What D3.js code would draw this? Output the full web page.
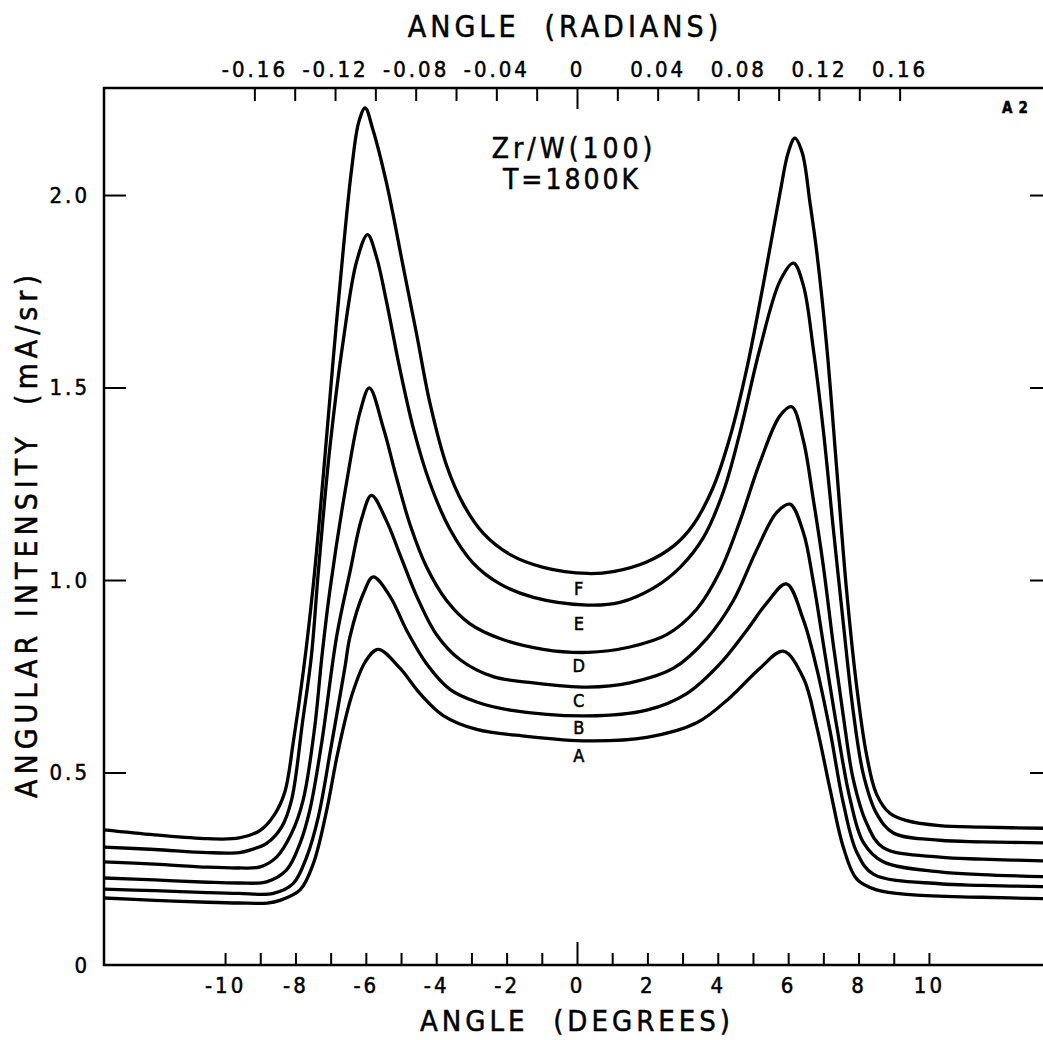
<!DOCTYPE html>
<html>
<head>
<meta charset="utf-8">
<script src="https://cdn.jsdelivr.net/npm/d3@7"></script>
<style>
  html, body { margin: 0; padding: 0; background: #fff; }
  svg { display: block; }
  text { font-family: "DejaVu Sans Condensed", "DejaVu Sans", sans-serif; fill: #000; stroke: #000; stroke-width: 0.5px; }
  .tick text { font-size: 22px; letter-spacing: 3px; }
  .tick line { stroke: #000; stroke-width: 2; }
  .curve { fill: none; stroke: #000; stroke-width: 3.3; stroke-linejoin: round; }
</style>
</head>
<body>
<svg id="chart" width="1043" height="1040"></svg>
<script>
// Zr/W(100) angular intensity at T = 1800 K, curves A..F (angle in degrees, intensity in mA/sr)

const curveA = [[-13.44,0.174],[-12,0.168],[-10.5,0.163],[-9.6,0.161],[-8.8,0.161],[-8.44,0.168],[-7.87,0.195],
  [-7.49,0.264],[-7.11,0.403],[-6.8,0.55],[-6.4,0.70],[-6.0,0.79],[-5.65,0.82],[-5.03,0.771],[-4.46,0.705],
  [-3.8,0.648],[-2.85,0.612],[-1.43,0.594],[0.3,0.582],[1.98,0.591],[3.4,0.629],[4.35,0.695],[5.2,0.771],
  [5.86,0.815],[6.43,0.746],[6.81,0.62],[7.19,0.457],[7.57,0.305],[7.95,0.223],[8.51,0.195],[9.55,0.182],
  [11.5,0.176],[13.44,0.172]];
const curveB = [[-13.44,0.197],[-12,0.193],[-10.5,0.188],[-9.6,0.186],[-8.63,0.186],[-8.06,0.212],[-7.68,0.281],
  [-7.35,0.385],[-7.0,0.56],[-6.6,0.77],[-6.45,0.853],[-6.07,0.965],[-5.79,1.008],[-5.31,0.957],[-4.84,0.869],
  [-4.27,0.782],[-3.61,0.716],[-2.85,0.683],[-1.9,0.662],[0.3,0.647],[1.98,0.662],[3.12,0.705],[4.06,0.782],
  [4.82,0.869],[5.39,0.94],[5.95,0.99],[6.43,0.897],[6.81,0.771],[7.19,0.608],[7.57,0.419],[7.95,0.293],
  [8.42,0.236],[10.31,0.211],[11.5,0.207],[13.44,0.203]];
const curveC = [[-13.44,0.226],[-12,0.221],[-10.5,0.215],[-9.6,0.213],[-8.82,0.216],[-8.25,0.247],[-7.87,0.316],
  [-7.59,0.403],[-7.25,0.58],[-6.83,0.853],[-6.45,1.021],[-6.12,1.159],[-5.84,1.22],[-5.41,1.153],[-5.03,1.066],
  [-4.55,0.957],[-3.99,0.858],[-3.32,0.793],[-2.38,0.749],[-1.24,0.733],[0.3,0.722],[1.5,0.733],[2.74,0.771],
  [3.69,0.848],[4.44,0.946],[5.1,1.077],[5.67,1.175],[6.05,1.197],[6.43,1.124],[6.71,0.998],[7.0,0.834],
  [7.38,0.62],[7.76,0.431],[8.14,0.318],[8.7,0.268],[10.31,0.242],[11.5,0.235],[13.44,0.229]];
const curveD = [[-13.44,0.268],[-12,0.262],[-10.5,0.254],[-9.6,0.252],[-9.0,0.255],[-8.53,0.281],[-8.11,0.342],
  [-7.78,0.429],[-7.45,0.62],[-7.25,0.80],[-7.02,0.974],[-6.55,1.252],[-6.16,1.438],[-5.9,1.499],[-5.5,1.394],
  [-5.12,1.263],[-4.74,1.143],[-4.27,1.033],[-3.7,0.946],[-3.04,0.886],[-2.19,0.848],[-0.96,0.82],[0.3,0.812],
  [1.5,0.826],[2.55,0.858],[3.4,0.924],[4.06,1.022],[4.63,1.153],[5.2,1.306],[5.77,1.427],[6.1,1.45],
  [6.43,1.363],[6.71,1.212],[7.0,1.036],[7.28,0.834],[7.57,0.645],[7.85,0.482],[8.23,0.368],[8.7,0.305],
  [10.31,0.28],[11.5,0.275],[13.44,0.27]];
const curveE = [[-13.44,0.306],[-12,0.3],[-10.5,0.292],[-9.6,0.292],[-9.28,0.299],[-8.82,0.316],[-8.39,0.359],
  [-8.11,0.429],[-7.8,0.63],[-7.55,0.80],[-7.35,1.021],[-7.02,1.345],[-6.64,1.623],[-6.26,1.828],[-5.95,1.897],
  [-5.7,1.84],[-5.41,1.722],[-5.03,1.547],[-4.65,1.394],[-4.18,1.252],[-3.61,1.132],[-2.95,1.044],[-2.19,0.99],
  [-1.24,0.955],[0.3,0.935],[1.22,0.942],[2.17,0.979],[2.93,1.033],[3.59,1.11],[4.16,1.23],[4.63,1.383],
  [5.2,1.602],[5.77,1.777],[6.15,1.823],[6.43,1.766],[6.71,1.603],[7.0,1.388],[7.28,1.136],[7.57,0.885],
  [7.85,0.658],[8.14,0.494],[8.51,0.394],[8.99,0.343],[10.31,0.324],[11.5,0.32],[13.44,0.317]];
const curveF = [[-13.44,0.351],[-12,0.338],[-10.5,0.328],[-9.6,0.33],[-9.0,0.35],[-8.6,0.39],[-8.3,0.45],
  [-8.06,0.58],[-7.78,0.76],[-7.49,0.99],[-7.21,1.27],[-6.93,1.57],[-6.64,1.86],[-6.4,2.07],[-6.2,2.19],
  [-6.02,2.226],[-5.8,2.17],[-5.41,2.03],[-4.93,1.81],[-4.55,1.635],[-4.18,1.46],[-3.7,1.296],[-3.23,1.197],
  [-2.66,1.121],[-1.9,1.066],[-0.96,1.033],[0.3,1.017],[1.03,1.022],[1.98,1.047],[2.74,1.088],[3.3,1.143],
  [3.87,1.241],[4.35,1.372],[4.82,1.547],[5.29,1.766],[5.77,2.006],[6.0,2.11],[6.19,2.148],[6.4,2.11],
  [6.62,1.98],[6.81,1.854],[7.1,1.603],[7.38,1.288],[7.66,0.973],[7.95,0.721],[8.23,0.545],[8.51,0.444],
  [8.89,0.394],[9.37,0.375],[10.3,0.362],[11.5,0.358],[13.44,0.355]];

const CURVES = [curveA, curveB, curveC, curveD, curveE, curveF];
const CURVE_NAMES = ["A", "B", "C", "D", "E", "F"];
const CURVE_LABEL_Y = [0.545, 0.616, 0.688, 0.777, 0.886, 0.979];

const DEG_TICKS = [-10, -9, -8, -7, -6, -5, -4, -3, -2, -1, 0, 1, 2, 3, 4, 5, 6, 7, 8, 9, 10];
const DEG_LABELS = [-10, -8, -6, -4, -2, 0, 2, 4, 6, 8, 10];
const RAD_TICKS = [-0.16, -0.14, -0.12, -0.10, -0.08, -0.06, -0.04, -0.02, 0, 0.02, 0.04, 0.06, 0.08, 0.10, 0.12, 0.14, 0.16];
const RAD_LABELS = [-0.16, -0.12, -0.08, -0.04, 0, 0.04, 0.08, 0.12, 0.16];
const Y_TICKS = [0, 0.5, 1.0, 1.5, 2.0];

const svg = d3.select("#chart");
const L = 104, R = 1050, T = 88, B = 965;
const X_MAX = 13.44;

const x = d3.scaleLinear().domain([-X_MAX, X_MAX]).range([L, R]);
const xr = d3.scaleLinear().domain([-X_MAX * Math.PI / 180, X_MAX * Math.PI / 180]).range([L, R]);
const y = d3.scaleLinear().domain([0, 2.278]).range([B, T]);

// bottom axis: degrees, ticks pointing in
const gx = svg.append("g").attr("transform", `translate(0,${B})`)
  .call(d3.axisBottom(x).tickValues(DEG_TICKS).tickSizeInner(-12).tickSizeOuter(0).tickPadding(12)
    .tickFormat(d => DEG_LABELS.includes(d) ? String(d) : ""));
gx.selectAll(".tick line").filter(d => d === 0).attr("y2", -23);

// top axis: radians
const gt = svg.append("g").attr("transform", `translate(0,${T})`)
  .call(d3.axisTop(xr).tickValues(RAD_TICKS).tickSizeInner(-13).tickSizeOuter(0).tickPadding(11)
    .tickFormat(d => RAD_LABELS.some(v => Math.abs(v - d) < 1e-9) ? (d === 0 ? "0" : d.toFixed(2)) : ""));
gt.selectAll(".tick line").filter(d => d === 0).attr("y2", 21);

// left & right axes
const gy = svg.append("g").attr("transform", `translate(${L},0)`)
  .call(d3.axisLeft(y).tickValues(Y_TICKS).tickSizeInner(-22).tickSizeOuter(0).tickPadding(14)
    .tickFormat(d => d === 0 ? "0" : d.toFixed(1)));
gy.selectAll(".tick line").filter(d => d === 0).remove();
const gr = svg.append("g").attr("transform", `translate(${R},0)`)
  .call(d3.axisRight(y).tickValues(Y_TICKS.slice(1)).tickSizeInner(-20).tickSizeOuter(0).tickFormat(""));

svg.selectAll(".domain").remove();
svg.selectAll(".tick text").attr("fill", "#000");

// frame
svg.append("rect").attr("x", L).attr("y", T).attr("width", R - L).attr("height", B - T)
  .attr("fill", "none").attr("stroke", "#000").attr("stroke-width", 2.5);

// curves
const line = d3.line().x(d => x(d[0])).y(d => y(d[1])).curve(d3.curveCatmullRom.alpha(0.5));
svg.append("g").selectAll("path").data(CURVES).join("path")
  .attr("class", "curve").attr("d", line);

svg.append("g").selectAll("text").data(CURVE_NAMES).join("text")
  .attr("x", x(0.05)).attr("y", (d, i) => y(CURVE_LABEL_Y[i]))
  .attr("text-anchor", "middle").attr("dominant-baseline", "central")
  .attr("font-size", 18).text(d => d);

// titles
svg.append("text").attr("x", 565).attr("y", 37).attr("text-anchor", "middle")
  .attr("font-size", 30).attr("letter-spacing", 4).style("white-space", "pre")
  .text("ANGLE  (RADIANS)");
svg.append("text").attr("x", 577).attr("y", 1031).attr("text-anchor", "middle")
  .attr("font-size", 29).attr("letter-spacing", 4).style("white-space", "pre")
  .text("ANGLE  (DEGREES)");
svg.append("text").attr("transform", "translate(37,534) rotate(-90)").attr("text-anchor", "middle")
  .attr("font-size", 30).attr("letter-spacing", 5).style("white-space", "pre")
  .text("ANGULAR INTENSITY  (mA/sr)");

svg.append("text").attr("x", 574).attr("y", 158).attr("text-anchor", "middle")
  .attr("font-size", 28).attr("letter-spacing", 4).text("Zr/W(100)");
svg.append("text").attr("x", 572).attr("y", 189).attr("text-anchor", "middle")
  .attr("font-size", 28).attr("letter-spacing", 3).text("T=1800K");
svg.append("text").attr("x", 1018).attr("y", 113).attr("text-anchor", "middle")
  .attr("font-size", 15).attr("font-weight", "bold").attr("letter-spacing", 6).text("A2");
</script>
</body>
</html>
